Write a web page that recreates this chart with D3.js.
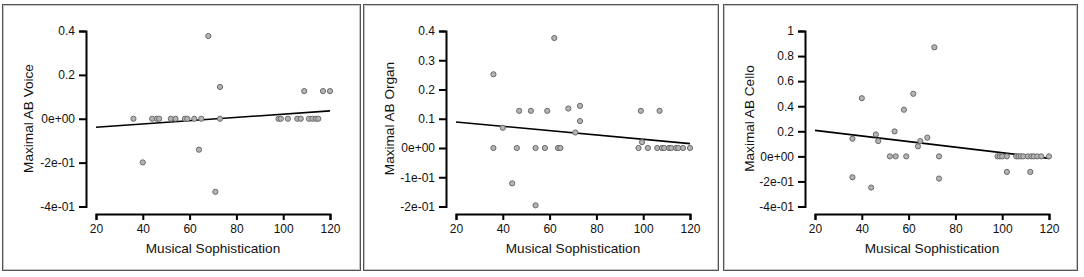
<!DOCTYPE html>
<html>
<head>
<meta charset="utf-8">
<script src="https://cdn.jsdelivr.net/npm/d3@7"></script>
<style>
  body { margin: 0; background: #fff; }
  text { font-family: "Liberation Sans", Arial, sans-serif; }
</style>
</head>
<body>
<div id="chart"></div>
<script>
// ---- data ----
const xTicks = [20, 40, 60, 80, 100, 120]
const xTitle = "Musical Sophistication"

const voiceTitle = "Maximal AB Voice"
const voiceTicks = [0.4, 0.2, 0, -0.2, -0.4]
const voiceTickLabels = ["0.4", "0.2", "0e+00", "-2e-01", "-4e-01"]
const voiceX = [36, 44, 46, 47, 52, 54, 58, 59, 62, 65, 73, 98, 99, 102, 106, 107.5, 111, 112.5, 114, 115,
                68, 73, 109, 117, 120, 64, 40, 71]
const voiceY = [0, 0, 0, 0, 0, 0, 0, 0, 0, 0, 0, 0, 0, 0, 0, 0, 0, 0, 0, 0,
                0.377, 0.145, 0.126, 0.126, 0.126, -0.141, -0.199, -0.333]
const voiceFit = [[20, -0.039], [120, 0.036]]

const organTitle = "Maximal AB Organ"
const organTicks = [0.4, 0.3, 0.2, 0.1, 0, -0.1, -0.2]
const organTickLabels = ["0.4", "0.3", "0.2", "0.1", "0e+00", "-1e-01", "-2e-01"]
const organX = [36, 62, 47, 52, 59, 68, 73, 73, 40, 71, 99, 107, 99.5, 44, 54,
                36, 46, 54, 58, 63.6, 64.6, 98, 102, 106, 108, 109, 111, 112, 114, 115, 117, 120]
const organY = [0.252, 0.376, 0.127, 0.127, 0.127, 0.135, 0.144, 0.092, 0.069, 0.053, 0.127, 0.127, 0.020, -0.121, -0.196,
                0, 0, 0, 0, 0, 0, 0, 0, 0, 0, 0, 0, 0, 0, 0, 0, 0]
const organFit = [[20, 0.089], [120, 0.015]]

const celloTitle = "Maximal AB Cello"
const celloTicks = [1, 0.8, 0.6, 0.4, 0.2, 0, -0.2, -0.4]
const celloTickLabels = ["1", "0.8", "0.6", "0.4", "0.2", "0e+00", "-2e-01", "-4e-01"]
const celloX = [71, 40, 62, 58, 54, 36, 46, 47, 68, 65, 64, 102, 112, 36, 73, 44,
                52, 54.5, 59, 73, 98, 99, 100, 102, 106, 107, 108, 109, 111, 112.5, 113.5, 115, 116.7, 120]
const celloY = [0.87, 0.464, 0.499, 0.372, 0.199, 0.141, 0.175, 0.122, 0.149, 0.122, 0.08, -0.124, -0.124, -0.167, -0.177, -0.249,
                0, 0, 0, 0, 0, 0, 0, 0, 0, 0, 0, 0, 0, 0, 0, 0, 0, 0]
const celloFit = [[20, 0.207], [120, -0.016]]

// ---- layout ----
const W = 1084, H = 277

const panels = [
    { title: voiceTitle, ticks: voiceTicks, labels: voiceTickLabels, xs: voiceX, ys: voiceY, fit: voiceFit,
      frameX: 2, frameW: 358, axisX: 86, x0: 96, x1: 330 },
    { title: organTitle, ticks: organTicks, labels: organTickLabels, xs: organX, ys: organY, fit: organFit,
      frameX: 363, frameW: 355, axisX: 446, x0: 456, x1: 690 },
    { title: celloTitle, ticks: celloTicks, labels: celloTickLabels, xs: celloX, ys: celloY, fit: celloFit,
      frameX: 723, frameW: 354, axisX: 805, x0: 815, x1: 1049 }
]

const svg = d3.select("#chart")
    .append("svg")
        .attr("width", W)
        .attr("height", H)

panels.forEach(p => {
    const g = svg.append("g")

    // frame (double line)
    g.append("rect")
        .attr("x", p.frameX + 0.5).attr("y", 4.5)
        .attr("width", p.frameW).attr("height", 266)
        .attr("fill", "none").attr("stroke", "#555")
    g.append("rect")
        .attr("x", p.frameX + 1.5).attr("y", 5.5)
        .attr("width", p.frameW - 2).attr("height", 264)
        .attr("fill", "none").attr("stroke", "#c4c4c4")

    // scales
    const x = d3.scaleLinear()
        .domain([20, 120])
        .range([p.x0, p.x1])

    const y = d3.scaleLinear()
        .domain([d3.min(p.ticks), d3.max(p.ticks)])
        .range([206.5, 31])

    // axes
    const yAxis = g.append("g")
        .attr("transform", `translate(${p.axisX}, 0)`)
        .call(d3.axisLeft(y).tickValues(p.ticks).tickSize(7).tickPadding(4)
            .tickFormat((d, i) => p.labels[i]))
    const xAxis = g.append("g")
        .attr("transform", `translate(0, 214)`)
        .call(d3.axisBottom(x).tickValues(xTicks).tickSize(6).tickPadding(4))

    ;[yAxis, xAxis].forEach(a => {
        a.select(".domain").attr("stroke", "#000").attr("stroke-width", 2)
        a.selectAll(".tick line").attr("stroke", "#000").attr("stroke-width", 2)
        a.selectAll(".tick text").attr("fill", "#111").attr("font-size", 12)
            .attr("font-family", "Liberation Sans, Arial, sans-serif")
    })

    // titles
    g.append("text")
        .attr("x", (p.x0 + p.x1) / 2)
        .attr("y", 253)
        .attr("text-anchor", "middle")
        .attr("font-size", 13.6)
        .attr("fill", "#111")
        .text(xTitle)

    g.append("text")
        .attr("transform", `translate(${p.frameX + 31}, ${(31 + 206) / 2}) rotate(-90)`)
        .attr("text-anchor", "middle")
        .attr("font-size", 13.6)
        .attr("fill", "#111")
        .text(p.title)

    // fit line
    g.append("line")
        .attr("x1", x(p.fit[0][0])).attr("y1", y(p.fit[0][1]))
        .attr("x2", x(p.fit[1][0])).attr("y2", y(p.fit[1][1]))
        .attr("stroke", "#000").attr("stroke-width", 1.6)

    // points
    g.selectAll("circle")
        .data(p.xs.map((v, i) => [v, p.ys[i]]))
        .enter()
        .append("circle")
            .attr("cx", d => x(d[0]))
            .attr("cy", d => y(d[1]))
            .attr("r", 2.6)
            .attr("fill", "#b4b4b4")
            .attr("stroke", "#6a6a6a")
            .attr("stroke-width", 1)
})
</script>
</body>
</html>
